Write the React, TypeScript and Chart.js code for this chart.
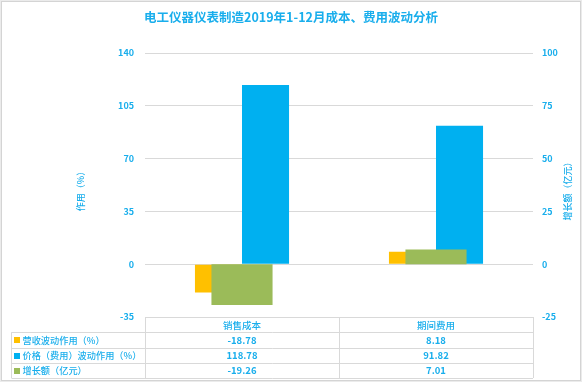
import React, { useEffect, useRef } from "react";
import { Chart, registerables } from "chart.js";

Chart.register(...registerables);

const title = "电工仪器仪表制造2019年1-12月成本、费用波动分析";
const categories = ["销售成本", "期间费用"];
const seriesNames = ["营收波动作用（%）", "价格（费用）波动作用（%）", "增长额（亿元）"];
const revenueEffect = [-18.78, 8.18];
const priceEffect = [118.78, 91.82];
const growthAmount = [-19.26, 7.01];
const leftTitle = "作用（%）";
const rightTitle = "增长额（亿元）";

const COLORS = ["#FFC000", "#00B0F0", "#9BBB59"];
const TEXT = "#19AEEC";
const FONT = "'Noto Sans CJK SC', 'Noto Sans', sans-serif";
const W = 582;
const H = 382;

const framePlugin = {
  id: "frame",
  beforeDraw(chart: any) {
    const ctx = chart.ctx;
    ctx.save();
    ctx.fillStyle = "#ebebeb";
    ctx.fillRect(0, 0, W, H);
    ctx.fillStyle = "#ffffff";
    ctx.fillRect(2, 2, W - 4, H - 4);
    ctx.strokeStyle = "#d4d4d4";
    ctx.lineWidth = 1;
    ctx.strokeRect(1.5, 1.5, W - 3, H - 3);
    ctx.restore();
  },
};

const textPlugin = {
  id: "texts",
  afterDraw(chart: any) {
    const ctx = chart.ctx;
    const area = chart.chartArea;
    const midY = (area.top + area.bottom) / 2 + 4;
    ctx.save();
    ctx.fillStyle = TEXT;
    ctx.textAlign = "center";
    ctx.textBaseline = "middle";
    ctx.font = `bold 12.5px ${FONT}`;
    ctx.fillText(title, 291, 17.5);

    ctx.font = `500 9px ${FONT}`;
    ctx.save();
    ctx.translate(80.5, midY);
    ctx.rotate(-Math.PI / 2);
    ctx.fillText(leftTitle, 0, 0);
    ctx.restore();
    ctx.save();
    ctx.translate(567.5, midY);
    ctx.rotate(-Math.PI / 2);
    ctx.fillText(rightTitle, 0, 0);
    ctx.restore();

    // data table
    const left = area.left;
    const right = area.right;
    const top = area.bottom;
    const bottom = 378;
    const rowH = (bottom - top) / 4;
    const legendLeft = 11.5;
    const colW = (right - left) / categories.length;
    ctx.strokeStyle = "#d9d9d9";
    ctx.lineWidth = 1;
    ctx.beginPath();
    ctx.moveTo(left, top + 0.5);
    ctx.lineTo(right, top + 0.5);
    for (let r = 1; r <= 4; r++) {
      const y = Math.round(top + r * rowH) + 0.5;
      ctx.moveTo(legendLeft, y);
      ctx.lineTo(right, y);
    }
    for (let c = 0; c <= categories.length; c++) {
      const x = Math.round(left + c * colW) + 0.5;
      ctx.moveTo(x, top);
      ctx.lineTo(x, bottom);
    }
    ctx.moveTo(legendLeft, top + rowH);
    ctx.lineTo(legendLeft, bottom);
    ctx.stroke();

    const xs = chart.scales.x;
    ctx.font = `500 9.5px ${FONT}`;
    categories.forEach((c, i) => {
      ctx.fillText(c, xs.getPixelForValue(i), top + rowH / 2 + 0.5);
    });
    const rows = [revenueEffect, priceEffect, growthAmount];
    rows.forEach((vals, r) => {
      const cy = top + (r + 1) * rowH + rowH / 2 + 0.5;
      ctx.font = `bold 9.5px ${FONT}`;
      ctx.textAlign = "center";
      ctx.fillStyle = TEXT;
      vals.forEach((v, i) => {
        ctx.fillText(v.toFixed(2), xs.getPixelForValue(i), cy);
      });
      ctx.fillStyle = COLORS[r];
      ctx.fillRect(14, Math.round(cy - 3), 6, 6);
      ctx.fillStyle = TEXT;
      ctx.textAlign = "left";
      ctx.font = `500 9.2px ${FONT}`;
      ctx.fillText(seriesNames[r], 22.5, cy);
    });
    ctx.restore();
  },
};

export default function App() {
  const ref = useRef<HTMLCanvasElement | null>(null);
  useEffect(() => {
    document.body.style.margin = "0";
    if (!ref.current) return;
    const chart = new Chart(ref.current, {
      type: "bar",
      data: {
        labels: categories,
        datasets: [
          {
            label: seriesNames[0],
            data: revenueEffect,
            backgroundColor: COLORS[0],
            yAxisID: "y",
            categoryPercentage: 0.485,
            barPercentage: 1,
            order: 1,
          },
          {
            label: seriesNames[1],
            data: priceEffect,
            backgroundColor: COLORS[1],
            yAxisID: "y",
            categoryPercentage: 0.485,
            barPercentage: 1,
            order: 1,
          },
          {
            label: seriesNames[2],
            data: growthAmount,
            backgroundColor: COLORS[2],
            yAxisID: "y1",
            grouped: false,
            categoryPercentage: 0.315,
            barPercentage: 1,
            order: 0,
          },
        ],
      },
      options: {
        responsive: false,
        animation: false,
        layout: { padding: { top: 53, bottom: 65, left: 0, right: 0 } },
        plugins: {
          legend: { display: false },
          title: { display: false },
          tooltip: { enabled: false },
        },
        scales: {
          x: { display: false },
          y: {
            position: "left",
            min: -35,
            max: 140,
            ticks: {
              stepSize: 35,
              color: TEXT,
              font: { family: FONT, size: 9, weight: "bold" },
              padding: 11,
            },
            grid: { color: "#d9d9d9", drawTicks: false },
            border: { display: false },
            afterFit: (s: any) => {
              s.width = 145;
            },
          },
          y1: {
            position: "right",
            min: -25,
            max: 100,
            ticks: {
              stepSize: 25,
              color: TEXT,
              font: { family: FONT, size: 9, weight: "bold" },
              padding: 9,
            },
            grid: { display: false, drawTicks: false },
            border: { display: false },
            afterFit: (s: any) => {
              s.width = 49;
            },
          },
        },
      },
      plugins: [framePlugin, textPlugin],
    });
    return () => chart.destroy();
  }, []);
  return (
    <div style={{ position: "absolute", left: 0, top: 0, width: W, height: H }}>
      <canvas ref={ref} width={W} height={H} style={{ display: "block" }} />
    </div>
  );
}
